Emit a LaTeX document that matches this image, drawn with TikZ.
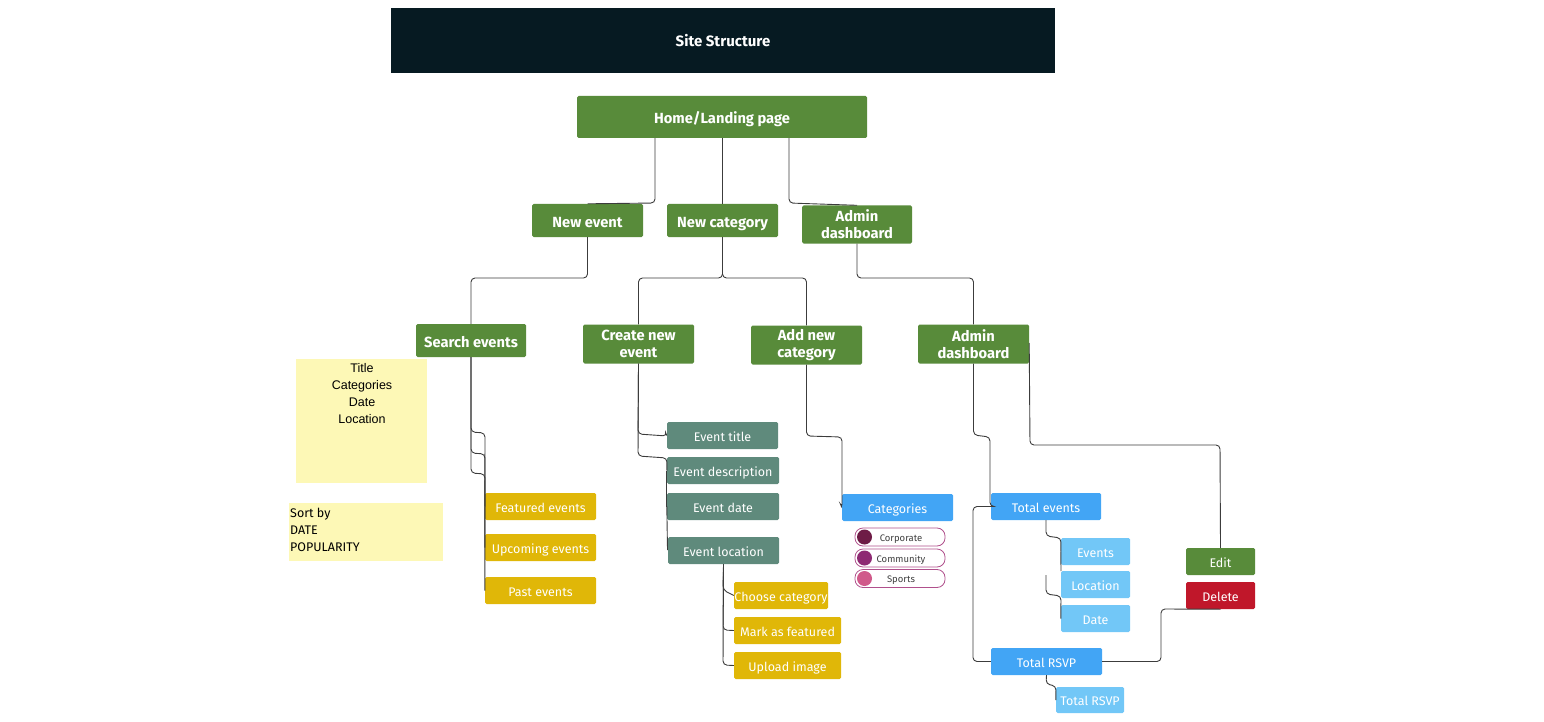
\documentclass[tikz,border=0pt]{standalone}
\usepackage{fontspec}
\setmainfont{Fira Sans}
\newfontfamily\arialfont{Liberation Sans}
\definecolor{titlebg}{HTML}{061A22}
\definecolor{gr}{HTML}{588B3A}
\definecolor{yl}{HTML}{E0B708}
\definecolor{tl}{HTML}{5F8A7C}
\definecolor{bl}{HTML}{42A5F5}
\definecolor{lb}{HTML}{72C7F7}
\definecolor{rd}{HTML}{C0172A}
\definecolor{nt}{HTML}{FDF8B6}
\definecolor{pillb}{HTML}{B0508C}
\definecolor{cA}{HTML}{6E1C46}
\definecolor{cB}{HTML}{8E2A73}
\definecolor{cC}{HTML}{D0598A}
\definecolor{ln}{HTML}{3C3C3C}
\tikzset{
  box/.style={rectangle, rounded corners=1.5pt, inner sep=0pt, align=center, text=white},
  slg/.style={text height=14pt, text depth=0pt},
  sl/.style={text height=11.6pt, text depth=0pt},
  gbox/.style={box, fill=gr, font=\fontsize{14.7}{17}\selectfont\bfseries},
  ybox/.style={box, sl, fill=yl, font=\fontsize{12.5}{14}\selectfont},
  tbox/.style={box, sl, fill=tl, font=\fontsize{12.5}{14}\selectfont},
  bbox/.style={box, sl, fill=bl, font=\fontsize{12.5}{14}\selectfont},
  lbox/.style={box, sl, fill=lb, font=\fontsize{12.5}{14}\selectfont},
  rbox/.style={box, sl, fill=rd, font=\fontsize{12.5}{14}\selectfont},
  pill/.style={rectangle, rounded corners=8pt, draw=pillb, line width=0.8pt, fill=white, minimum width=90pt, minimum height=18pt, inner sep=0pt, font=\fontsize{9.5}{11}\selectfont, text=black!75, text height=8pt, text depth=0pt},
  dot/.style={circle, inner sep=0pt, minimum size=15pt},
  conn/.style={draw=ln, line width=0.9pt, rounded corners=4pt},
}
\begin{document}
\begin{tikzpicture}[x=1pt,y=-1pt]
\useasboundingbox (0,0) rectangle (1544,722);
% title
\node[rectangle, text height=11.5pt, text depth=0pt, fill=titlebg, minimum width=664pt, minimum height=65pt, inner sep=0pt, text=white, font=\fontsize{15}{17}\selectfont\bfseries] (title) at (723,40.5) {Site Structure};
% level 0-1
\node[gbox, slg, minimum width=290pt, minimum height=42pt] (home) at (722,117) {Home/Landing page};
\node[gbox, slg, minimum width=111pt, minimum height=33pt] (ne) at (587.5,220.5) {New event};
\node[gbox, slg, minimum width=111pt, minimum height=33pt] (nc) at (722.5,220.5) {New category};
\node[gbox, minimum width=110pt, minimum height=38pt] (ad1) at (857,224.5) {Admin\\dashboard};
% level 2
\node[gbox, slg, minimum width=110pt, minimum height=33pt] (se) at (471,340.5) {Search events};
\node[gbox, minimum width=111pt, minimum height=39pt] (cne) at (638.5,344) {Create new\\event};
\node[gbox, minimum width=111pt, minimum height=39pt] (anc) at (806.5,345) {Add new\\category};
\node[gbox, minimum width=111pt, minimum height=39pt] (ad2) at (973.5,344) {Admin\\dashboard};
% notes
\node[rectangle, fill=nt, minimum width=131pt, minimum height=124pt, inner sep=0pt] (note1) at (361.5,421) {};
\node[anchor=north, align=center, inner sep=0pt, font=\arialfont\fontsize{12.5}{17}\selectfont] (note1t) at (362,363) {Title\\Categories\\Date\\Location};
\node[rectangle, fill=nt, minimum width=154pt, minimum height=58pt, inner sep=0pt] (note2) at (366,532) {};
\node[anchor=north west, align=left, inner sep=0pt, font=\fontsize{12.5}{17}\selectfont, text=black] (note2t) at (290,508) {Sort by\\DATE\\POPULARITY};
% search results
\node[ybox, minimum width=111pt, minimum height=27pt] (fe) at (540.5,506.5) {Featured events};
\node[ybox, minimum width=111pt, minimum height=27pt] (ue) at (540.5,547.5) {Upcoming events};
\node[ybox, minimum width=111pt, minimum height=27pt] (pe) at (540.5,590.5) {Past events};
% create new event
\node[tbox, minimum width=111pt, minimum height=27pt] (et) at (722.5,435.5) {Event title};
\node[tbox, minimum width=112pt, minimum height=27pt] (ed) at (723,470.5) {Event description};
\node[tbox, minimum width=112pt, minimum height=27pt] (edt) at (723,506.5) {Event date};
\node[tbox, minimum width=111pt, minimum height=27pt] (el) at (723.5,550.5) {Event location};
\node[ybox, minimum width=94pt, minimum height=27pt] (cc) at (781,595.5) {Choose category};
\node[ybox, minimum width=107pt, minimum height=27pt] (maf) at (787.5,630.5) {Mark as featured};
\node[ybox, minimum width=107pt, minimum height=27pt] (ui) at (787.5,665.5) {Upload image};
% categories
\node[bbox, minimum width=111pt, minimum height=27pt] (cat) at (897.5,507.5) {Categories};
\node[pill] (p1) at (900,537) {\hspace*{2pt}Corporate};
\node[pill] (p2) at (900,558) {\hspace*{2pt}Community};
\node[pill] (p3) at (900,578.5) {\hspace*{2pt}Sports};
\node[dot, fill=cA] (d1) at (864.5,537) {};
\node[dot, fill=cB] (d2) at (864.5,558) {};
\node[dot, fill=cC] (d3) at (864.5,578.5) {};
% admin
\node[bbox, minimum width=110pt, minimum height=27pt] (te) at (1046,506.5) {Total events};
\node[lbox, minimum width=69pt, minimum height=27pt] (ev) at (1095.5,551.5) {Events};
\node[lbox, minimum width=69pt, minimum height=27pt] (loc) at (1095.5,584.5) {Location};
\node[lbox, minimum width=69pt, minimum height=27pt] (dt) at (1095.5,618.5) {Date};
\node[bbox, minimum width=111pt, minimum height=27pt] (tr) at (1046.5,661.5) {Total RSVP};
\node[lbox, minimum width=68pt, minimum height=26pt] (tr2) at (1090,700) {Total RSVP};
\node[box, sl, fill=gr, font=\fontsize{12.5}{14}\selectfont, minimum width=69pt, minimum height=27pt] (edit) at (1220.5,561.5) {Edit};
\node[rbox, minimum width=69pt, minimum height=27pt] (del) at (1220.5,595.5) {Delete};
% connectors level 0-1
\draw[conn] (home.south -| 655,0) -- (655,203) -- (ne.north);
\draw[conn] (home.south -| nc.north) -- (nc.north);
\draw[conn] (home.south -| 789,0) -- (789,203) -- (ad1.north);
% level 1-2
\draw[conn] (ne.south) -- (587.5,278) -- (471,278) -- (se.north);
\draw[conn] (nc.south) -- (722.5,278) -- (638.5,278) -- (cne.north);
\draw[conn] (nc.south) -- (722.5,278) -- (806.5,278) -- (anc.north);
\draw[conn] (ad1.south) -- (857,278) -- (973.5,278) -- (ad2.north);
% search
\draw[conn] (se.south) -- (471,432) -- (485,433) -- (fe.west);
\draw[conn] (se.south) -- (471,453) -- (485,454) -- (ue.west);
\draw[conn] (se.south) -- (471,473) -- (485,474) -- (pe.west);
% create event
\draw[conn] (cne.south) -- (638,434) -- (667,436) -- (et.west);
\draw[conn] (cne.south) -- (638,456) -- (667,458) -- (ed.west);
\draw[conn] (ed.west) -- (edt.west);
\draw[conn] (edt.west) -- (667.5,550);
\draw[conn] (el.south) -- (723,590) -- (cc.west);
\draw[conn] (el.south) -- (723,630) -- (maf.west);
\draw[conn] (el.south) -- (723,665) -- (ui.west);
% category
\draw[conn] (anc.south) -- (806.5,436) -- (842,437) -- (842,508) -- (cat.west);
% admin
\draw[conn] (ad2.south) -- (973.5,435) -- (990,437) -- (990,506.5) -- (te.west);
\draw[conn] (te.west) -- (973,506.5) -- (973,661.5) -- (tr.west);
\draw[conn] (te.south) -- (1046,536) -- (1061,538) -- (ev.west);
\draw[conn] (ev.west) -- (1061,571);
\draw[conn] (1046,575) -- (1046,594) -- (1061,596) -- (dt.west);
\draw[conn] (tr.south) -- (1046,684) -- (1056,686) -- (tr2.west);
\draw[conn] (ad2.east |- 0,343) -- (1030,445) -- (1220,445) -- (edit.north);
\draw[conn] (tr.east) -- (1161,661.5) -- (1161,609) -- (del.south);
\end{tikzpicture}
\end{document}
